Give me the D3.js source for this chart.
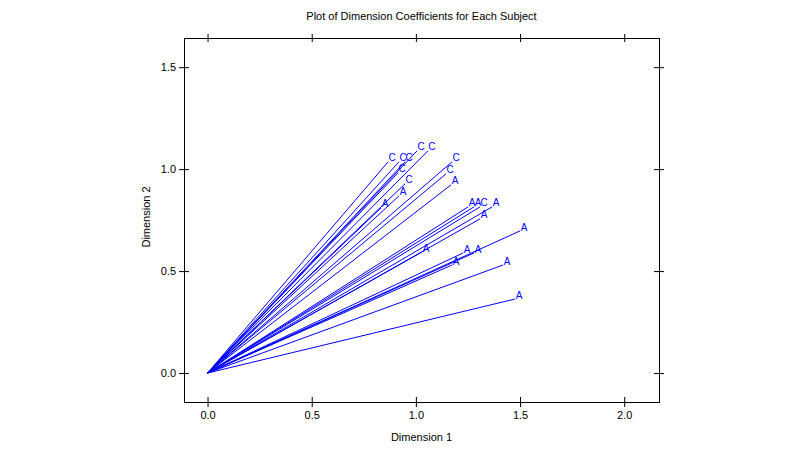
<!DOCTYPE html>
<html>
<head>
<meta charset="utf-8">
<script src="https://cdn.jsdelivr.net/npm/d3@7"></script>
<style>
  body { margin: 0; background: #fff; }
  text { font-family: "Liberation Sans", Arial, sans-serif; }
</style>
</head>
<body>
<div id="chart"></div>
<script>
// Subject coefficient end points (Dimension 1, Dimension 2) and their labels
let dim1 = [0.867, 0.919, 0.948, 1.006, 1.058, 1.174, 1.145, 0.948, 0.915, 1.308,
            0.833, 0.919, 1.169, 1.251, 1.279, 1.366, 1.308, 1.500, 1.227, 1.279,
            1.030, 1.174, 1.419, 1.476];
let dim2 = [1.036, 1.036, 1.036, 1.090, 1.090, 1.036, 0.977, 0.928, 0.982, 0.815,
            0.810, 0.869, 0.923, 0.815, 0.815, 0.815, 0.756, 0.697, 0.589, 0.589,
            0.594, 0.530, 0.530, 0.363];
let labels = ['C', 'C', 'C', 'C', 'C', 'C', 'C', 'C', 'C', 'C',
              'A', 'A', 'A', 'A', 'A', 'A', 'A', 'A', 'A', 'A',
              'A', 'A', 'A', 'A'];
let xTicks = [0.0, 0.5, 1.0, 1.5, 2.0];
let yTicks = [0.0, 0.5, 1.0, 1.5];

let svgWidth = 800, svgHeight = 452;
let margin = { top: 38, right: 141, bottom: 50, left: 184 };
let chartWidth = svgWidth - margin.left - margin.right;
let chartHeight = svgHeight - margin.top - margin.bottom;

let svg = d3.select('#chart')
            .append('svg')
            .attr('width', svgWidth)
            .attr('height', svgHeight);

let chartGrp = svg.append('g')
            .attr('transform', `translate(${margin.left}, ${margin.top})`);

let xScale = d3.scaleLinear().domain([-0.113, 2.167]).range([0, chartWidth]);
let yScale = d3.scaleLinear().domain([-0.142, 1.643]).range([chartHeight, 0]);

let points = dim1.map((d, i) => ({ x: d, y: dim2[i], lab: labels[i] }));

// Axes: ticks cross the frame on all four sides
function styleAxis(g) {
    g.select('.domain').remove();
    g.selectAll('line').attr('stroke', '#000');
    g.selectAll('text').attr('font-size', 11).attr('fill', '#000');
}
let fmt = d3.format('.1f');

let xAx = chartGrp.append('g')
    .attr('transform', `translate(0, ${chartHeight + 5})`)
    .call(d3.axisBottom(xScale).tickValues(xTicks).tickFormat(fmt).tickSizeOuter(0))
    .call(styleAxis);
xAx.selectAll('line').attr('y1', -10).attr('y2', 0);
xAx.selectAll('text').attr('y', 4);

chartGrp.append('g')
    .attr('transform', `translate(0, -4)`)
    .call(d3.axisTop(xScale).tickValues(xTicks).tickFormat('').tickSizeOuter(0))
    .call(styleAxis)
    .selectAll('line').attr('y1', 8).attr('y2', 0);

let yAx = chartGrp.append('g')
    .attr('transform', `translate(-5, 0)`)
    .call(d3.axisLeft(yScale).tickValues(yTicks).tickFormat(fmt).tickSizeOuter(0))
    .call(styleAxis);
yAx.selectAll('line').attr('x1', 10).attr('x2', 0);
yAx.selectAll('text').attr('x', -3).attr('text-anchor', 'end');

chartGrp.append('g')
    .attr('transform', `translate(${chartWidth + 5}, 0)`)
    .call(d3.axisRight(yScale).tickValues(yTicks).tickFormat('').tickSizeOuter(0))
    .call(styleAxis)
    .selectAll('line').attr('x1', -10).attr('x2', 0);

// Frame
chartGrp.append('rect')
    .attr('x', 0.5).attr('y', 0.5)
    .attr('width', chartWidth).attr('height', chartHeight)
    .attr('fill', 'none')
    .attr('stroke', '#000')
    .attr('stroke-width', 1);

// Vectors from the origin
chartGrp.selectAll('.vec')
    .data(points)
    .enter()
    .append('line')
    .attr('class', 'vec')
    .attr('x1', xScale(0)).attr('y1', yScale(0))
    .attr('x2', d => xScale(d.x)).attr('y2', d => yScale(d.y))
    .attr('stroke', '#0000ff')
    .attr('stroke-width', 1);

chartGrp.selectAll('.lab')
    .data(points)
    .enter()
    .append('text')
    .attr('class', 'lab')
    .attr('x', d => xScale(d.x) + 4)
    .attr('y', d => yScale(d.y) - 4)
    .attr('dy', '0.36em')
    .attr('text-anchor', 'middle')
    .attr('font-size', 10)
    .attr('fill', '#0000ff')
    .text(d => d.lab);

// Titles
svg.append('text')
    .attr('x', margin.left + chartWidth / 2)
    .attr('y', 20)
    .attr('text-anchor', 'middle')
    .attr('font-size', 11)
    .text('Plot of Dimension Coefficients for Each Subject');

svg.append('text')
    .attr('x', margin.left + chartWidth / 2)
    .attr('y', 441)
    .attr('text-anchor', 'middle')
    .attr('font-size', 11)
    .text('Dimension 1');

svg.append('text')
    .attr('transform', 'rotate(-90)')
    .attr('x', -(margin.top + chartHeight / 2) + 3)
    .attr('y', 150)
    .attr('text-anchor', 'middle')
    .attr('font-size', 11)
    .text('Dimension 2');
</script>
</body>
</html>
